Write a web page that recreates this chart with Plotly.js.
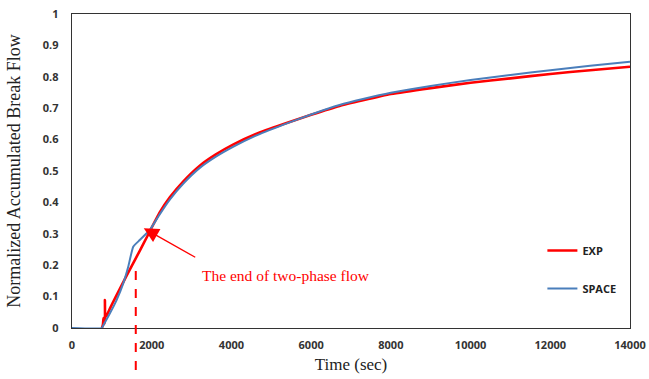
<!DOCTYPE html>
<html>
<head>
<meta charset="utf-8">
<script src="https://cdn.plot.ly/plotly-3.0.1.min.js"></script>
<style>html,body{margin:0;padding:0;background:#fff;}#chart{width:649px;height:379px;}</style>
</head>
<body>
<div id="chart"></div>
<script>
// EXP (measured) normalized accumulated break flow
const expTime = [750, 775, 790, 800, 826, 826, 835, 870, 900, 1000, 1200, 1400, 1600, 1800, 1953, 2200, 2454, 2800, 3206, 3600, 4040, 4600, 5292, 6000, 6713, 7300, 8000, 9000, 10000, 11000, 12000, 13000, 14000];
const expValue = [0.0, 0.01, 0.032, 0.012, 0.025, 0.089, 0.035, 0.04, 0.048, 0.075, 0.125, 0.174, 0.222, 0.27, 0.308, 0.368, 0.416, 0.468, 0.517, 0.552, 0.584, 0.617, 0.649, 0.679, 0.707, 0.725, 0.745, 0.764, 0.781, 0.795, 0.809, 0.821, 0.832];
// SPACE (code) prediction
const spaceTime = [0, 744, 800, 952, 1119, 1286, 1411, 1536, 1700, 1828, 1953, 2200, 2454, 2800, 3206, 3600, 4040, 4600, 5292, 6000, 6713, 7300, 8000, 9000, 10000, 11000, 12000, 13000, 14000];
const spaceValue = [0, 0, 0.012, 0.047, 0.089, 0.142, 0.195, 0.259, 0.28, 0.296, 0.312, 0.362, 0.409, 0.461, 0.510, 0.545, 0.577, 0.612, 0.647, 0.68, 0.71, 0.729, 0.749, 0.771, 0.790, 0.806, 0.821, 0.835, 0.848];
const seriesNames = ["EXP", "SPACE"];
const twoPhaseEnd = 1600;
const arrowPoint = [1800, 0.318];
const xTicks = [0, 2000, 4000, 6000, 8000, 10000, 12000, 14000];
const yTicks = [0, 0.1, 0.2, 0.3, 0.4, 0.5, 0.6, 0.7, 0.8, 0.9, 1];

const tickFont = {family: "Open Sans", size: 11, color: "#333", weight: 700};
const serif = "Liberation Serif";

const traces = [
  {x: expTime, y: expValue, name: seriesNames[0], type: "scatter", mode: "lines",
   line: {color: "#FF0000", width: 2.6, shape: "spline", smoothing: 0.4}, legendgroup: "a"},
  {x: spaceTime, y: spaceValue, name: seriesNames[1], type: "scatter", mode: "lines",
   line: {color: "#4A7EBB", width: 2, shape: "spline", smoothing: 0.4}, legendgroup: "b"}
];

const layout = {
  width: 649, height: 379,
  margin: {l: 72, r: 19, t: 14, b: 51},
  paper_bgcolor: "#fff", plot_bgcolor: "#fff",
  showlegend: true,
  legend: {x: 0.843, y: 0.293, xanchor: "left", yanchor: "top", bgcolor: "rgba(0,0,0,0)",
    font: {family: "Open Sans", size: 11, color: "#222", weight: 700},
    tracegroupgap: 19, itemwidth: 30},
  xaxis: {range: [0, 14000], tickvals: xTicks, ticktext: xTicks.map(String),
    showgrid: false, zeroline: false, showline: true, mirror: true, linecolor: "#333", linewidth: 1.3,
    ticks: "", tickfont: tickFont, ticklabelstandoff: 6,
    title: {text: "Time (sec)", font: {family: serif, size: 17, color: "#222"}, standoff: 7}},
  yaxis: {range: [0, 1], tickvals: yTicks, ticktext: yTicks.map(v => String(v)),
    showgrid: false, zeroline: false, showline: true, mirror: true, linecolor: "#333", linewidth: 1.3,
    ticks: "", tickfont: tickFont, ticklabelstandoff: 10,
    title: {text: "Normalized Accumulated Break Flow", font: {family: serif, size: 18, color: "#222"}, standoff: 17}},
  shapes: [
    {type: "line", xref: "x", yref: "paper", x0: twoPhaseEnd, x1: twoPhaseEnd, y0: -0.134, y1: 0.185,
     line: {color: "#FF0000", width: 2, dash: "dash"}}
  ],
  annotations: [
    {x: arrowPoint[0], y: arrowPoint[1], xref: "x", yref: "y", text: "", showarrow: true,
     arrowhead: 2, arrowsize: 2.3, arrowwidth: 1.3, arrowcolor: "#FF0000", ax: 53, ay: 30, standoff: 0},
    {x: 0.384, y: 0.168, xref: "paper", yref: "paper", text: "The end of two-phase flow", showarrow: false,
     xanchor: "center", yanchor: "middle", font: {family: serif, size: 15.5, color: "#FF0000"}}
  ]
};

Plotly.newPlot("chart", traces, layout, {displayModeBar: false, staticPlot: true});
</script>
</body>
</html>
